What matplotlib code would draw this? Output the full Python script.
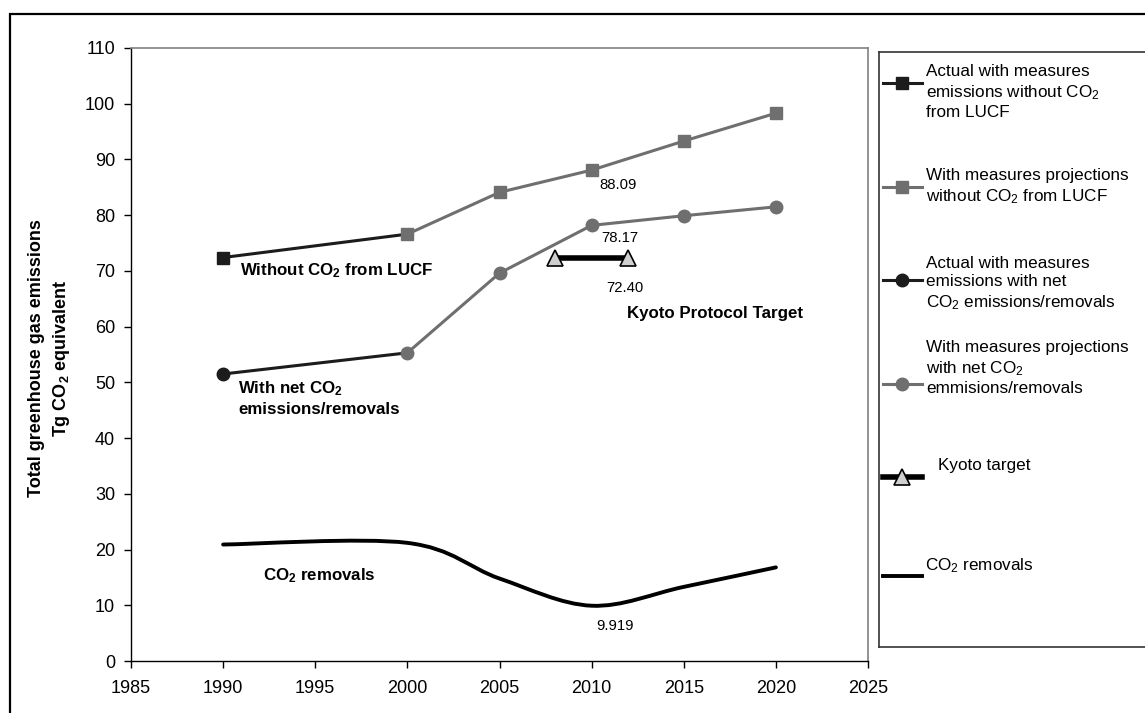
import numpy as np
import matplotlib.pyplot as plt
from matplotlib.path import Path
from matplotlib.patches import PathPatch, Rectangle

plt.rcParams['font.family'] = ['Liberation Sans', 'DejaVu Sans']
plt.rcParams['mathtext.default'] = 'regular'

# emissions without CO2 from LUCF (Tg CO2 eq.)
years_actual = [1990, 2000]
without_actual = [72.4, 76.6]
years_proj = [2000, 2005, 2010, 2015, 2020]
without_proj = [76.6, 84.1, 88.09, 93.3, 98.3]

# emissions with net CO2 emissions/removals
net_actual = [51.5, 55.3]
net_proj = [55.3, 69.6, 78.17, 79.9, 81.5]

# Kyoto Protocol target period
kyoto_years = [2008, 2012]
kyoto_value = [72.40, 72.40]

# CO2 removals
removal_years = [1990, 2000, 2005, 2010, 2015, 2020]
removals = [20.9, 21.2, 14.8, 9.919, 13.3, 16.8]

dark = '#1c1c1c'
grey = '#6f6f6f'
tri_fill = '#d0d0d0'

fig = plt.figure(figsize=(11.45, 7.13), dpi=100)
W, H = 1145, 713


def fx(px):
    return px / W


def fy(py):
    return 1 - py / H


# outer frame
fig.patches.append(Rectangle((fx(10), -0.2), 1.5, fy(14) + 0.2, transform=fig.transFigure,
                             fill=False, ec='black', lw=1.6))

ax = fig.add_axes([fx(131), fy(661), (868 - 131) / W, (661 - 48) / H])

ax.plot(years_actual, without_actual, color=dark, lw=2.2, marker='s', ms=8.5,
        mfc=dark, mec=dark, markevery=[0], zorder=3)
ax.plot(years_proj, without_proj, color=grey, lw=2.2, marker='s', ms=8.5,
        mfc=grey, mec=grey, zorder=3)
ax.plot(years_actual, net_actual, color=dark, lw=2.2, marker='o', ms=9,
        mfc=dark, mec=dark, markevery=[0], zorder=3)
ax.plot(years_proj, net_proj, color=grey, lw=2.2, marker='o', ms=9,
        mfc=grey, mec=grey, zorder=3)
ax.plot(kyoto_years, kyoto_value, color='black', lw=4, marker='^', ms=11,
        mfc=tri_fill, mec='black', mew=1.2, zorder=4)

# smoothed removals curve (cubic Bezier through the points)
pts = np.column_stack([removal_years, removals]).astype(float)
n = len(pts)
verts = [pts[0]]
codes = [Path.MOVETO]
for i in range(n - 1):
    p_prev = pts[max(i - 1, 0)]
    p0 = pts[i]
    p1 = pts[i + 1]
    p_next = pts[min(i + 2, n - 1)]
    c1 = p0 + (p1 - p_prev) / 6
    c2 = p1 - (p_next - p0) / 6
    verts += [c1, c2, p1]
    codes += [Path.CURVE4] * 3
ax.add_patch(PathPatch(Path(verts, codes), fill=False, ec='black', lw=2.8,
                       capstyle='round', zorder=3))

ax.set_xlim(1985, 2025)
ax.set_ylim(0, 110)
ax.set_xticks(range(1985, 2026, 5))
ax.set_yticks(range(0, 111, 10))
ax.tick_params(axis='both', labelsize=13, length=5, width=1, color='black')
ax.tick_params(axis='y', pad=6.5)
ax.tick_params(axis='x', pad=9)
for s in ['left', 'bottom']:
    ax.spines[s].set_color('black')
    ax.spines[s].set_linewidth(1)
for s in ['top', 'right']:
    ax.spines[s].set_color('#808080')
    ax.spines[s].set_linewidth(1.2)

ax.set_ylabel('Total greenhouse gas emissions\nTg CO$_2$ equivalent', fontsize=13,
              fontweight='bold', linespacing=1.45, ha='center', va='center')
ax.yaxis.set_label_coords((50 - 131) / 737, (661 - 358) / 613)

# series labels
bold = dict(fontsize=12.2, fontweight='bold', va='center', ha='left')
ax.text(1990.92, 70.0, 'Without CO$_2$ from LUCF', **bold)
ax.text(1990.81, 47.1, 'With net CO$_2$\nemissions/removals', linespacing=1.35, **bold)
ax.text(2011.9, 62.3, 'Kyoto Protocol Target', **bold)
ax.text(1992.16, 15.4, 'CO$_2$ removals', **bold)

num = dict(fontsize=10.7, ha='center', va='center')
ax.text(2011.43, 85.4, f'{without_proj[2]:.2f}', **num)
ax.text(2011.54, 75.9, f'{net_proj[2]:.2f}', **num)
ax.text(2011.81, 66.9, f'{kyoto_value[0]:.2f}', **num)
ax.text(2011.27, 6.2, f'{removals[3]:.3f}', **num)

# legend box, drawn in pixel units
lax = fig.add_axes([fx(879), fy(647), 300 / W, (647 - 52) / H])
lax.set_xlim(879, 1179)
lax.set_ylim(647, 52)
lax.set_xticks([])
lax.set_yticks([])
for s in lax.spines.values():
    s.set_color('#333333')
    s.set_linewidth(1.2)

entries = [
    (83, 92, dict(color=dark, marker='s', ms=8.5, mfc=dark, mec=dark, lw=2.2),
     'Actual with measures\nemissions without CO$_2$\nfrom LUCF', 926),
    (187, 187, dict(color=grey, marker='s', ms=8.5, mfc=grey, mec=grey, lw=2.2),
     'With measures projections\nwithout CO$_2$ from LUCF', 926),
    (280, 284, dict(color=dark, marker='o', ms=9, mfc=dark, mec=dark, lw=2.2),
     'Actual with measures\nemissions with net\nCO$_2$ emissions/removals', 926),
    (384, 368, dict(color=grey, marker='o', ms=9, mfc=grey, mec=grey, lw=2.2),
     'With measures projections\nwith net CO$_2$\nemmisions/removals', 926),
    (477, 466, dict(color='black', marker='^', ms=11, mfc=tri_fill, mec='black',
                    mew=1.2, lw=4),
     'Kyoto target', 938),
    (576, 566, dict(color='black', lw=2.8),
     'CO$_2$ removals', 925),
]
for hy, ty, style, label, tx in entries:
    lax.plot([883, 902, 922], [hy, hy, hy], markevery=[1], **style)
    lax.text(tx, ty, label, fontsize=12.3, ha='left', va='center', linespacing=1.3)

fig.savefig('out.png', dpi=100)
